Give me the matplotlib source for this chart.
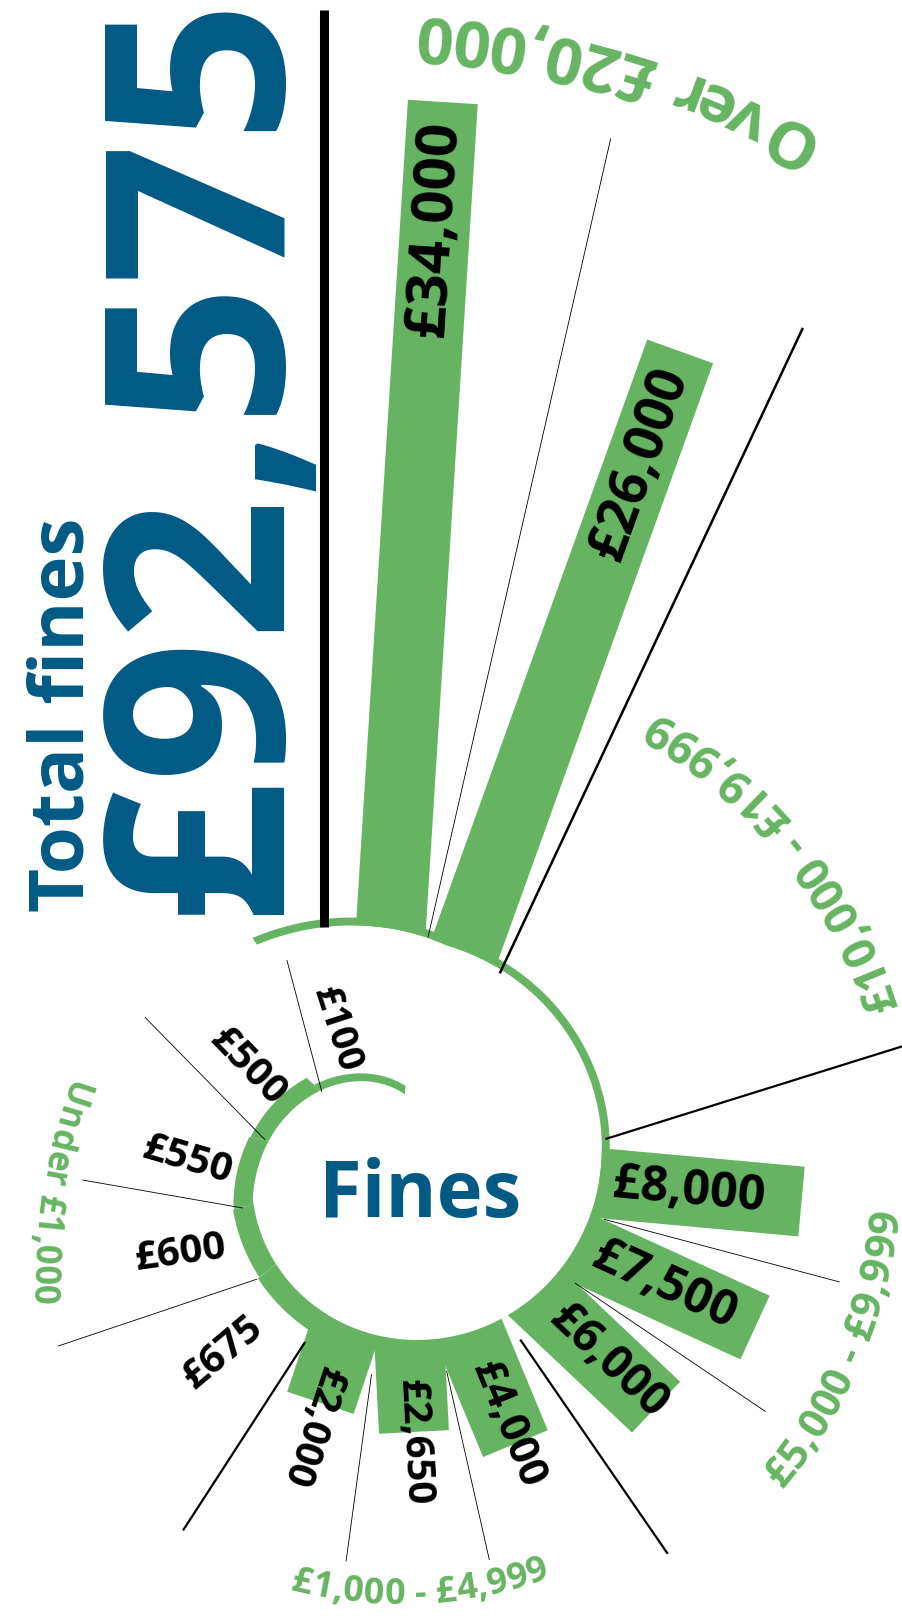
import numpy as np
import matplotlib
matplotlib.use('Agg')
import matplotlib.pyplot as plt
from matplotlib.patches import Polygon
from matplotlib.font_manager import FontProperties

plt.rcParams['font.family'] = ['Open Sans', 'DejaVu Sans']

GREEN = '#66b462'
BLUE = '#005a84'

# ---- data -------------------------------------------------------------
small_labels = ['£100', '£500', '£550', '£600', '£675']
small_values = [100, 500, 550, 600, 675]
bar_labels = ['£2,000', '£2,650', '£4,000', '£6,000', '£7,500', '£8,000',
              '£26,000', '£34,000']
bar_values = [2000, 2650, 4000, 6000, 7500, 8000, 26000, 34000]
group_names = ['Under £1,000', '£1,000 - £4,999', '£5,000 - £9,999',
               '£10,000 - £19,999', 'Over £20,000']
total = sum(small_values) + sum(bar_values)

# ---- layout (pixel units, fan centre) ---------------------------------
CX, CY = 400, 1165
K = 0.0254          # px per pound
R0 = 200            # where a zero bar would end
BAR_W = 70

ring_edges = [86, 137, 169.5, 195, 218.6, 242]
bar_angles = [251.5, 273, 292.5, 316.6, 335.4, 354.8, 430.2, 446.4]
bar_offsets = [0, 0, 0, 0, 0, 0, -12, -24]
bar_fs = [28.5, 29, 30.5, 33, 35, 35, 39, 42]
small_pos = [(115, 149, -72), (147.2, 181, -46), (178.7, 213, -16.5),
             (201.8, 237, 8), (226.7, 258, 40)]
small_fs = [27.5, 29, 29, 29, 29]


def pt(phi, r):
    a = np.radians(phi)
    return CX + r * np.cos(a), CY - r * np.sin(a)


def base_r(phi):
    # white spiral the bars grow out of
    d = np.asarray(phi, float) - 193
    return np.where(d < 0, 151 + 0.75 * d,
                    151 + 0.30 * d + 0.55 * np.clip(d - 245, 0, None))


def axis_vecs(ang, off):
    a = np.radians(ang)
    u = np.array([np.cos(a), -np.sin(a)])
    n = np.array([np.sin(a), np.cos(a)])
    return np.array([CX, CY]) + off * n, u, n


fig = plt.figure(figsize=(9.03, 16.16), dpi=100)
ax = fig.add_axes([0, 0, 1, 1])
ax.set_xlim(0, 903)
ax.set_ylim(1616, 0)
ax.axis('off')

# bars of £1,000 and above
for ang, off, val in zip(bar_angles, bar_offsets, bar_values):
    c, u, n = axis_vecs(ang, off)
    r_in = float(base_r(ang)) - 40
    r_out = R0 + K * val
    poly = [c + r_in * u + BAR_W / 2 * n, c + r_out * u + BAR_W / 2 * n,
            c + r_out * u - BAR_W / 2 * n, c + r_in * u - BAR_W / 2 * n]
    ax.add_patch(Polygon(poly, closed=True, fc=GREEN, ec='none', zorder=1))

# white spiral blob hides the bar feet
ph = np.linspace(186, 486, 500)
xs, ys = pt(ph, base_r(ph))
ax.add_patch(Polygon(np.column_stack([np.r_[CX, xs], np.r_[CY, ys]]),
                     closed=True, fc='white', ec='none', zorder=2))

# thin base arc over the top
ph = np.linspace(355, 483, 300)
xi, yi = pt(ph, base_r(ph))
xo, yo = pt(ph, base_r(ph) + 8)
ax.add_patch(Polygon(np.column_stack([np.r_[xi, xo[::-1]], np.r_[yi, yo[::-1]]]),
                     closed=True, fc=GREEN, ec='none', zorder=3))

# under £1,000 as ring pieces
for i, val in enumerate(small_values):
    ph = np.linspace(ring_edges[i], ring_edges[i + 1], 80)
    xi, yi = pt(ph, base_r(ph))
    xo, yo = pt(ph, base_r(ph) + 6 + K * val)
    ax.add_patch(Polygon(np.column_stack([np.r_[xi, xo[::-1]], np.r_[yi, yo[::-1]]]),
                         closed=True, fc=GREEN, ec='none', zorder=3))


# divider lines
def seg(p1, r1, p2, r2, lw):
    x1, y1 = pt(p1, r1)
    x2, y2 = pt(p2, r2)
    ax.plot([x1, x2], [y1, y2], color='black', lw=lw, solid_capstyle='butt', zorder=4)


for i, j, r_end in [(0, 1, 400), (1, 2, 405), (3, 4, 441), (4, 5, 455)]:
    m = (bar_angles[i] + bar_angles[j]) / 2
    seg(m, 211, m, r_end, 0.6)
seg(83, 229, 78.4, 1048, 0.6)
m = (bar_angles[2] + bar_angles[3]) / 2
seg(m, 212, m, 472, 1.6)
for p1, r1, p2, r2 in [(136.9, 107, 118.9, 234), (169.5, 137, 149.9, 295),
                       (195.3, 163, 182.7, 318), (218.6, 183, 207.9, 387)]:
    seg(p1, r1, p2, r2, 0.6)
seg(241.8, 201, 239.3, 425, 1.6)
seg(7.2, 207, 13.3, 517, 1.6)
seg(62.5, 216, 64.3, 929, 1.8)
ax.plot([324, 324], [10, 927], color='black', lw=6.5, solid_capstyle='butt', zorder=4)

# bar value labels
for ang, off, val, lab, fs in zip(bar_angles, bar_offsets, bar_values, bar_labels, bar_fs):
    rot = ang % 360
    rot = rot if rot < 180 else rot - 360
    c, u, n = axis_vecs(ang, off)
    if val > 20000:
        x, y = c + (R0 + K * val - 18) * u
        ha = 'right'
    else:
        x, y = c + 214 * u
        ha = 'left'
    ax.text(x, y, lab, rotation=rot, rotation_mode='anchor', ha=ha, va='center',
            fontsize=fs, fontweight='bold', color='black', zorder=5)

for (p, r, rot), lab, fs in zip(small_pos, small_labels, small_fs):
    x, y = pt(p, r)
    ax.text(x, y, lab, rotation=rot, rotation_mode='anchor', ha='center', va='center',
            fontsize=fs, fontweight='bold', color='black', zorder=5)

# curved group names
ren = fig.canvas.get_renderer()


def arc_text(s, cx, cy, r, mid, size):
    fp = FontProperties(family=['Open Sans', 'DejaVu Sans'], weight='bold', size=size)
    bw = ren.get_text_width_height_descent('|', fp, ismath=False)[0]
    pos = [ren.get_text_width_height_descent(s[:i] + '|', fp, ismath=False)[0] - bw
           for i in range(len(s) + 1)]
    cap = ren.get_text_width_height_descent('0', fp, ismath=False)[1]
    rb = r + cap / 2
    for i, ch in enumerate(s):
        if ch == ' ':
            continue
        c = (pos[i] + pos[i + 1]) / 2 - pos[-1] / 2
        phi = mid + np.degrees(c / r)
        a = np.radians(phi)
        ax.text(cx + rb * np.cos(a), cy - rb * np.sin(a), ch, rotation=phi + 90,
                rotation_mode='anchor', ha='center', va='baseline',
                fontproperties=fp, color=GREEN, zorder=5)


arc_text(group_names[0], 672, 1288, 626, 171.2, 25)
arc_text(group_names[1], CX, CY, 426, -87.25, 26)
arc_text(group_names[2], CX, CY, 486, -22.8, 30)
arc_text(group_names[3], CX, CY, 505, 39.2, 33)
arc_text(group_names[4], 354, 970, 934, 73.65, 47)

# headline
ax.text(84, 912, 'Total fines', rotation=90, rotation_mode='anchor', ha='left',
        va='baseline', fontsize=55, fontweight='bold', color=BLUE, zorder=5)
ax.text(275, 914, '£{:,}'.format(total), rotation=90, rotation_mode='anchor',
        ha='left', va='baseline', fontsize=179, fontweight='bold', color=BLUE, zorder=5)
ax.text(420, 1197, 'Fines', ha='center', va='center', fontsize=56,
        fontweight='bold', color=BLUE, zorder=5)

fig.savefig('out.png', dpi=100)
